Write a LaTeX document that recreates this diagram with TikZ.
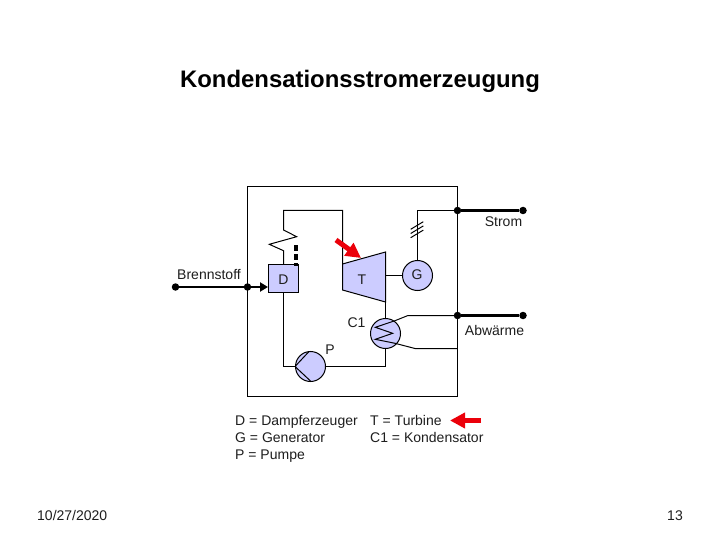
\documentclass[tikz,border=0pt]{standalone}
\usepackage{fontspec}
\setmainfont{Liberation Sans}
\usepackage{xcolor}
\usetikzlibrary{
  arrows.meta,
  positioning
}
\definecolor{PartBlue}{RGB}{204, 204, 255}
\definecolor{SignalRed}{RGB}{235, 0, 10}
\definecolor{LabelGray}{RGB}{30, 30, 30}
\tikzset{
    part/.style={draw=black, fill=PartBlue, line width=1pt, inner sep=0pt},
    wire/.style={draw=black, line width=1pt},
    feed/.style={draw=black, line width=2.4pt},
    dotnode/.style={circle, fill=black, inner sep=0pt, minimum size=7.5pt},
    label/.style={font=\fontsize{14}{16}\selectfont, text=LabelGray, inner sep=0pt},
    hint/.style={draw=SignalRed, line width=5pt, -{Triangle[length=15pt,width=15pt]}},
}

\begin{document}
\begin{tikzpicture}[x=1pt, y=-1pt]
            \useasboundingbox (0,0) rectangle (720,540);
            \fill[white] (0,0) rectangle (720,540);

            % title and plant frame
            \node[font=\fontsize{23.9}{26}\selectfont\bfseries, inner sep=0pt] (title) at (360,81) {Kondensationsstromerzeugung};
            \draw[wire] (247.5,186.5) rectangle (457.5,396.5);

            % parts
            \node[part, rectangle, minimum width=30pt, minimum height=28pt] (dampf) at (283.5,278.5) {};
            \node[label] (dampfText) at (283.5,280) {D};
            \coordinate (turbA) at (342.5,264);
            \coordinate (turbB) at (385.5,252);
            \coordinate (turbC) at (385.5,302);
            \coordinate (turbD) at (342.5,290);
            \draw[part] (turbA) -- (turbB) -- (turbC) -- (turbD) -- cycle;
            \node[label] (turbText) at (362,280) {T};
            \node[part, circle, minimum size=30pt] (gen) at (417.5,275.5) {};
            \node[label] (genText) at (417,275) {G};
            \node[part, circle, minimum size=30pt] (cond) at (385.5,333.5) {};
            \node[part, circle, minimum size=30pt] (pump) at (310.5,366.5) {};

            % pipes
            \coordinate (zigA) at (283.5,230);
            \coordinate (zigB) at (296.7,236.7);
            \coordinate (zigC) at (269.3,244.3);
            \coordinate (zigD) at (283.5,250.7);
            \draw[wire] (dampf.north) -- (zigD) -- (zigC) -- (zigB) -- (zigA) -- (283.5,210.5) -- (342.5,210.5) -- (turbA);
            \draw[wire] (385.5,275.5) -- (gen.west);
            \draw[wire] (turbC) -- (cond.north);
            \draw[wire] (cond.south) |- (pump.east);
            \draw[wire] (pump.west) -| (dampf.south);

            % pump and condenser inner lines
            \coordinate (pumpTop) at (309,351.5);
            \coordinate (pumpLow) at (310.5,381);
            \draw[wire] (pumpTop) -- (pump.west) -- (pumpLow);
            \draw[wire] (457.5,315.5) -- (408,315.5) -- (395,320.7) -- (375.3,327.3) -- (392.7,333.3) -- (375.3,339.3) -- (395,343.3) -- (415,348.5) -- (457.5,348.5);

            % dotted steam marks
            \fill[black] (293.5,245) rectangle (298,251);
            \fill[black] (293.5,254) rectangle (298,260);
            \fill[black] (293.5,263) rectangle (298,266);

            % connections through the frame
            \node[dotnode] (fuelOut) at (175.5,287) {};
            \node[dotnode] (fuelIn) at (247.5,287) {};
            \draw[feed] (fuelOut) -- (fuelIn);
            \draw[feed, -{Triangle[length=8pt,width=9pt]}] (fuelIn) -- (dampf.west |- fuelIn);
            \node[dotnode] (powerIn) at (457.5,210.5) {};
            \node[dotnode] (powerOut) at (523,210.5) {};
            \draw[feed] (powerIn) -- (powerOut);
            \draw[wire] (gen.north) |- (powerIn);
            \foreach \slash in {0,4.2,8.4}{
                \draw[wire] (410.7,229.3+\slash) -- (423.3,221.7+\slash);
            }
            \node[dotnode] (heatIn) at (457.5,315.5) {};
            \node[dotnode] (heatOut) at (523,315.5) {};
            \draw[feed] (heatIn) -- (heatOut);

            % labels
            \node[label] (fuelText) at (209,275) {Brennstoff};
            \node[label] (powerText) at (503.5,222) {Strom};
            \node[label] (heatText) at (494.5,330) {Abwärme};
            \node[label] (condText) at (356.5,323) {C1};
            \node[label] (pumpText) at (330,350) {P};

            % red pointers
            \coordinate (hintA) at (336,240);
            \coordinate (hintB) at (361,258);
            \draw[hint] (hintA) -- (hintB);
            \coordinate (hintC) at (481,420.5);
            \coordinate (hintD) at (450,420.5);
            \draw[hint] (hintC) -- (hintD);

            % legend
            \node[label, anchor=base west] (legendD) at (235,425) {D = Dampferzeuger};
            \node[label, anchor=base west] (legendG) at (235,442) {G = Generator};
            \node[label, anchor=base west] (legendP) at (235,459) {P = Pumpe};
            \node[label, anchor=base west] (legendT) at (370,425) {T = Turbine};
            \node[label, anchor=base west] (legendC) at (370,442) {C1 = Kondensator};

            % footer
            \node[label, anchor=base west] (date) at (37,520) {10/27/2020};
            \node[label, anchor=base east] (page) at (683,520) {13};
        \end{tikzpicture}
\end{document}
